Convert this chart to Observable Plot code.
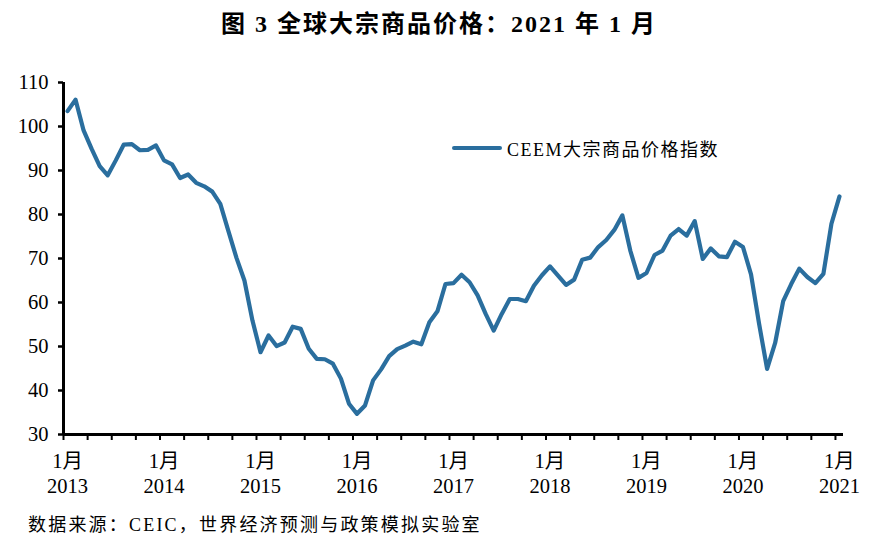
<!DOCTYPE html>
<html>
<head>
<meta charset="utf-8">
<script src="https://cdn.jsdelivr.net/npm/d3@7"></script>
<script src="https://cdn.jsdelivr.net/npm/@observablehq/plot@0.6"></script>
<style>
  html, body { margin: 0; padding: 0; background: #fff; }
  #wrap { position: relative; width: 878px; height: 552px; overflow: hidden;
          font-family: "Liberation Serif", "Noto Sans CJK SC", serif; color: #000; }
  #title { position: absolute; left: 0; top: 8px; width: 878px; text-align: center;
           font-size: 24px; font-weight: bold; line-height: 32px; letter-spacing: 2px; }
  #chart { position: absolute; left: 0; top: 50px; }
  #legend { position: absolute; left: 452px; top: 135px; display: flex; align-items: center;
            font-size: 18px; letter-spacing: 1.5px; white-space: nowrap; }
  #legend .sw { display: inline-block; width: 50px; height: 4px; border-radius: 2px; margin-right: 5px; }
  #caption { position: absolute; left: 28px; top: 510px; font-size: 18px; letter-spacing: 2.2px;
             line-height: 30px; white-space: nowrap; }
</style>
</head>
<body>
<div id="wrap">
  <div id="title">图 3 全球大宗商品价格：2021 年 1 月</div>
  <div id="chart"></div>
  <div id="legend"><span class="sw"></span><span id="legendText"></span></div>
  <div id="caption">数据来源：CEIC，世界经济预测与政策模拟实验室</div>
</div>
<script>
// ---- data (monthly, Jan 2013 – Jan 2021) ----
const startYear = 2013;
const seriesName = "CEEM大宗商品价格指数";
const values = [
  103.5, 106.1, 99.1, 94.9, 91.0, 88.9, 92.3, 95.9, 96.0, 94.6, 94.7, 95.7,   // 2013
  92.3, 91.4, 88.3, 89.1, 87.2, 86.4, 85.2, 82.4, 76.3, 70.2, 65.0, 55.9,     // 2014
  48.7, 52.5, 50.1, 50.9, 54.5, 54.0, 49.5, 47.2, 47.1, 46.1, 42.7, 37.0,     // 2015
  34.7, 36.6, 42.3, 44.8, 47.8, 49.4, 50.2, 51.1, 50.5, 55.5, 58.0, 64.2,     // 2016
  64.4, 66.3, 64.6, 61.6, 57.4, 53.6, 57.4, 60.8, 60.8, 60.3, 63.8, 66.2,     // 2017
  68.2, 66.1, 64.0, 65.2, 69.7, 70.2, 72.6, 74.2, 76.5, 79.8, 71.7, 65.6,     // 2018
  66.7, 70.8, 71.8, 75.2, 76.7, 75.2, 78.5, 69.9, 72.3, 70.5, 70.3, 73.8,     // 2019
  72.6, 66.4, 55.2, 44.9, 50.8, 60.3, 64.2, 67.7, 65.8, 64.4, 66.5, 77.9,     // 2020
  84.1                                                                        // 2021
];
const yTicks = [30, 40, 50, 60, 70, 80, 90, 100, 110];
const monthLabel = "1月";

// ---- derived tables ----
const data = values.map((v, i) => ({i, v}));
const janIdx = values.map((v, i) => i).filter(i => i % 12 === 0);
const quarterEdges = values.map((v, i) => i).filter(i => i % 3 === 0).map(i => i - 0.5);
const xDomain = [-0.5, values.length - 0.5];
const color = "#2a6e9e";
const font = "'Liberation Serif', 'Noto Sans CJK SC', serif";

document.getElementById("legendText").textContent = seriesName;
document.querySelector("#legend .sw").style.background = color;

const plot = Plot.plot({
  width: 878,
  height: 455,
  marginLeft: 63,
  marginRight: 35,
  marginTop: 32,
  marginBottom: 71,
  style: {fontFamily: font, fontSize: "20px", color: "#000", background: "transparent"},
  x: {type: "linear", domain: xDomain, axis: null},
  y: {domain: [yTicks[0], yTicks[yTicks.length - 1]], axis: null},
  marks: [
    Plot.axisY({ticks: yTicks, tickSize: 5, tickPadding: 10, strokeWidth: 2.5,
                fontSize: 20.5, label: null, tickFormat: d => d}),
    Plot.axisX({ticks: quarterEdges, tickSize: 6, strokeWidth: 2,
                tickFormat: () => "", label: null}),
    Plot.axisX({ticks: janIdx, tickSize: 0, tickPadding: 16, fontSize: 20.5, lineHeight: 1.22,
                label: null, tickFormat: i => monthLabel + "\n" + (startYear + i / 12)}),
    Plot.ruleX([xDomain[0]], {stroke: "#000", strokeWidth: 3}),
    Plot.ruleY([yTicks[0]], {stroke: "#000", strokeWidth: 3}),
    Plot.line(data, {x: "i", y: "v", stroke: color, strokeWidth: 4.2,
                     strokeLinejoin: "round", strokeLinecap: "round"})
  ]
});
document.getElementById("chart").appendChild(plot);
</script>
</body>
</html>
